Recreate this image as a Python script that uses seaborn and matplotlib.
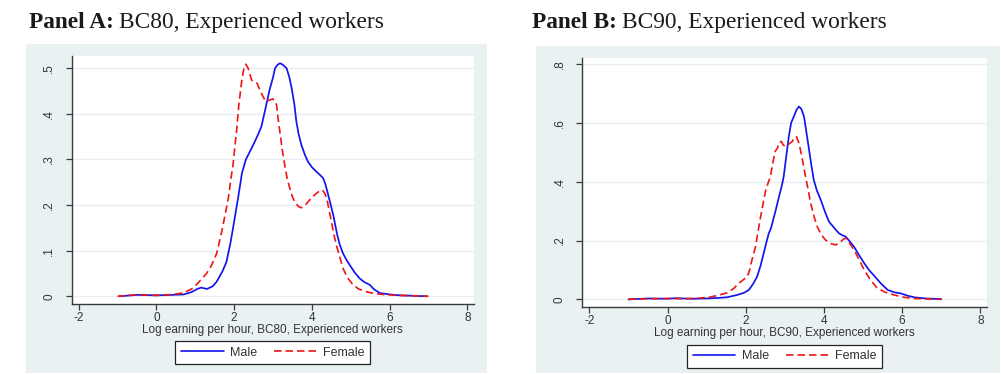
import numpy as np
import pandas as pd
import matplotlib
matplotlib.use("Agg")
import matplotlib.pyplot as plt
from matplotlib.patches import Rectangle
from matplotlib.ticker import FuncFormatter
import seaborn as sns

# ---- Kernel density estimates of log hourly earnings (read at irregular x) ----
# Panel A: BC80
a_male_x = [-0.95, -0.5, 0.0, 0.4, 0.7, 0.9, 1.05, 1.15, 1.3, 1.45, 1.55, 1.7, 1.8, 1.9,
            1.97, 2.05, 2.10, 2.2, 2.3, 2.36, 2.45, 2.53, 2.6, 2.7, 2.8, 2.92, 3.0, 3.05,
            3.12, 3.18, 3.25, 3.35, 3.42, 3.48, 3.55, 3.60, 3.66, 3.73, 3.82, 3.90, 4.0,
            4.12, 4.22, 4.29, 4.35, 4.42, 4.50, 4.55, 4.65, 4.72, 4.80, 4.9, 4.97, 5.1,
            5.23, 5.35, 5.49, 5.6, 5.75, 6.0, 6.26, 6.6, 6.95]
a_male_y = [0.000, 0.003, 0.002, 0.003, 0.004, 0.009, 0.016, 0.019, 0.016, 0.022, 0.032,
            0.055, 0.075, 0.115, 0.149, 0.190, 0.215, 0.270, 0.300, 0.310, 0.325, 0.339,
            0.352, 0.372, 0.410, 0.456, 0.480, 0.500, 0.508, 0.511, 0.508, 0.500, 0.480,
            0.456, 0.420, 0.383, 0.355, 0.332, 0.310, 0.295, 0.283, 0.273, 0.265, 0.259,
            0.245, 0.222, 0.195, 0.178, 0.135, 0.112, 0.094, 0.078, 0.069, 0.052, 0.039,
            0.031, 0.025, 0.015, 0.007, 0.004, 0.002, 0.001, 0.000]

a_female_x = [-1.0, -0.7, -0.45, -0.2, 0.1, 0.4, 0.69, 0.95, 1.12, 1.29, 1.40, 1.46, 1.55,
              1.68, 1.77, 1.85, 1.92, 1.97, 2.02, 2.06, 2.12, 2.19, 2.25, 2.30, 2.36, 2.45,
              2.52, 2.59, 2.7, 2.81, 2.9, 2.99, 3.05, 3.09, 3.13, 3.175, 3.24, 3.30, 3.36,
              3.43, 3.5, 3.56, 3.65, 3.73, 3.82, 3.90, 4.0, 4.12, 4.2, 4.27, 4.33, 4.38,
              4.44, 4.50, 4.56, 4.63, 4.72, 4.80, 4.92, 5.06, 5.2, 5.4, 5.6, 5.83, 6.2,
              6.6, 7.0]
a_female_y = [0.000, 0.002, 0.004, 0.002, 0.002, 0.004, 0.007, 0.018, 0.034, 0.050, 0.065,
              0.076, 0.094, 0.142, 0.180, 0.215, 0.260, 0.288, 0.330, 0.361, 0.420, 0.470,
              0.500, 0.509, 0.500, 0.474, 0.470, 0.467, 0.445, 0.427, 0.430, 0.433, 0.428,
              0.420, 0.390, 0.361, 0.320, 0.288, 0.260, 0.237, 0.218, 0.207, 0.197, 0.194,
              0.199, 0.207, 0.217, 0.226, 0.231, 0.233, 0.226, 0.215, 0.190, 0.164, 0.138,
              0.112, 0.085, 0.061, 0.040, 0.025, 0.016, 0.010, 0.006, 0.004, 0.002, 0.001,
              0.000]

# Panel B: BC90
b_male_x = [-1.0, -0.5, 0.0, 0.2, 0.6, 1.0, 1.3, 1.52, 1.78, 1.95, 2.08, 2.2, 2.29, 2.38,
            2.46, 2.53, 2.59, 2.64, 2.68, 2.76, 2.85, 2.92, 2.97, 3.03, 3.10, 3.16, 3.23,
            3.30, 3.36, 3.42, 3.49, 3.55, 3.62, 3.68, 3.74, 3.82, 3.92, 4.02, 4.13, 4.25,
            4.38, 4.47, 4.56, 4.66, 4.77, 4.90, 5.03, 5.15, 5.30, 5.45, 5.63, 5.8, 5.97,
            6.15, 6.31, 6.6, 7.0]
b_male_y = [0.000, 0.003, 0.002, 0.004, 0.002, 0.003, 0.005, 0.007, 0.015, 0.022, 0.032,
            0.055, 0.077, 0.115, 0.157, 0.195, 0.225, 0.240, 0.259, 0.300, 0.349, 0.385,
            0.417, 0.480, 0.553, 0.600, 0.622, 0.645, 0.656, 0.648, 0.622, 0.570, 0.508,
            0.455, 0.406, 0.370, 0.338, 0.300, 0.264, 0.245, 0.225, 0.218, 0.213, 0.197,
            0.179, 0.150, 0.123, 0.100, 0.078, 0.055, 0.032, 0.024, 0.020, 0.012, 0.007,
            0.003, 0.001]

b_female_x = [-1.0, -0.5, 0.0, 0.4, 0.8, 1.1, 1.3, 1.52, 1.7, 1.82, 1.95, 2.04, 2.10, 2.17,
              2.25, 2.32, 2.38, 2.45, 2.51, 2.57, 2.63, 2.70, 2.76, 2.81, 2.86, 2.91, 2.96,
              3.02, 3.10, 3.19, 3.25, 3.30, 3.35, 3.40, 3.47, 3.53, 3.60, 3.66, 3.75, 3.83,
              3.93, 4.04, 4.17, 4.30, 4.42, 4.50, 4.56, 4.66, 4.77, 4.90, 5.03, 5.18, 5.35,
              5.55, 5.79, 6.05, 6.31, 6.7, 7.0]
b_female_y = [0.000, 0.002, 0.003, 0.002, 0.004, 0.008, 0.014, 0.022, 0.038, 0.054, 0.068,
              0.077, 0.100, 0.140, 0.179, 0.235, 0.281, 0.330, 0.372, 0.395, 0.417, 0.470,
              0.505, 0.514, 0.535, 0.537, 0.525, 0.520, 0.528, 0.537, 0.552, 0.553, 0.535,
              0.508, 0.460, 0.417, 0.370, 0.327, 0.280, 0.247, 0.220, 0.202, 0.190, 0.185,
              0.195, 0.205, 0.208, 0.190, 0.168, 0.135, 0.100, 0.068, 0.040, 0.025, 0.015,
              0.007, 0.003, 0.001, 0.000]

series_labels = ["Male", "Female"]
panel_heads = ["Panel A:", "Panel B:"]
panel_names = ["BC80, Experienced workers", "BC90, Experienced workers"]
x_labels = ["Log earning per hour, BC80, Experienced workers",
            "Log earning per hour, BC90, Experienced workers"]
x_ticks = [-2, 0, 2, 4, 6, 8]
y_ticks = [[0, 0.1, 0.2, 0.3, 0.4, 0.5], [0, 0.2, 0.4, 0.6, 0.8]]

# ---- styling ----
sns.set_style("white")
plt.rcParams["font.family"] = ["Liberation Sans", "DejaVu Sans"]
plt.rcParams["axes.unicode_minus"] = False

BG = "#EAF1F3"
GRID = "#E6EEF0"
AXC = "#3A3A3A"
TXT = "#333333"

fig = plt.figure(figsize=(10.01, 3.74), dpi=100)
fig.patch.set_facecolor("white")

W, H = 1001.0, 374.0
boxes = [(25.7, 44, 487, 373), (536, 46, 1000, 373)]
axes_px = [(71.7, 56, 474, 304), (582.3, 57.7, 987, 306.7)]
ylims = [(-0.017, 0.527), (-0.025, 0.822)]
xlim = (-2.18, 8.17)
title_pos = [(29, 28), (532, 28)]
legend_y = [-0.149, -0.153]

panels = [
    (a_male_x, a_male_y, a_female_x, a_female_y),
    (b_male_x, b_male_y, b_female_x, b_female_y),
]


def stata_fmt(v, _pos):
    if abs(v) < 1e-9:
        return "0"
    return ("%.1f" % v).replace("0.", ".")


renderer = fig.canvas.get_renderer()

for i, (mx, my, fx, fy) in enumerate(panels):
    l, t, r, b = boxes[i]
    fig.patches.append(Rectangle((l / W, 1 - b / H), (r - l) / W, (b - t) / H,
                                 transform=fig.transFigure, facecolor=BG,
                                 edgecolor="none", zorder=-10))
    al, at, ar, ab = axes_px[i]
    ax = fig.add_axes([al / W, 1 - ab / H, (ar - al) / W, (ab - at) / H])
    ax.set_zorder(1)
    ax.set_facecolor("white")

    df = pd.concat([
        pd.DataFrame({"x": mx, "y": my, "sex": series_labels[0]}),
        pd.DataFrame({"x": fx, "y": fy, "sex": series_labels[1]}),
    ])
    sns.lineplot(data=df[df.sex == "Male"], x="x", y="y", ax=ax, color="#1414F0",
                 linewidth=1.25, label=series_labels[0], sort=False, estimator=None)
    sns.lineplot(data=df[df.sex == "Female"], x="x", y="y", ax=ax, color="#F01414",
                 linewidth=1.2, linestyle="--", label=series_labels[1], sort=False,
                 estimator=None)
    ax.lines[1].set_dashes((4.5, 2.4))

    ax.set_xlim(*xlim)
    ax.set_ylim(*ylims[i])
    ax.set_xticks(x_ticks)
    ax.set_yticks(y_ticks[i])
    ax.yaxis.set_major_formatter(FuncFormatter(stata_fmt))
    ax.grid(axis="y", color=GRID, linewidth=1.0)
    ax.grid(axis="x", visible=False)
    ax.set_axisbelow(True)

    for s in ["top", "right"]:
        ax.spines[s].set_visible(False)
    for s in ["left", "bottom"]:
        ax.spines[s].set_color(AXC)
        ax.spines[s].set_linewidth(1.0)

    ax.tick_params(axis="both", direction="out", length=4, width=0.9, color=AXC,
                   labelsize=8.5, labelcolor=TXT, left=True, bottom=True)
    ax.tick_params(axis="y", labelrotation=90, pad=8)
    ax.tick_params(axis="x", pad=2)
    for lab in ax.get_yticklabels():
        lab.set_verticalalignment("center")

    ax.set_xlabel(x_labels[i], fontsize=8.5, color=TXT, labelpad=0)
    ax.set_ylabel("")

    leg = ax.legend(loc="upper center", bbox_to_anchor=(0.5, legend_y[i]), ncol=2,
                    frameon=True, fancybox=False, fontsize=9, handlelength=3.4,
                    columnspacing=1.3, handletextpad=0.55, borderpad=0.45,
                    borderaxespad=0, edgecolor="#222222", framealpha=1)
    leg.get_frame().set_linewidth(0.9)
    for txt in leg.get_texts():
        txt.set_color(TXT)
    for h in leg.get_lines():
        h.set_linewidth(1.2)

    # bold panel tag followed by regular description
    tx, ty = title_pos[i]
    head = fig.text(tx / W, 1 - ty / H, panel_heads[i], fontsize=16.8,
                    family="Liberation Serif", fontweight="bold", color="#1a1a1a",
                    va="baseline", ha="left")
    bb = head.get_window_extent(renderer=renderer)
    fig.text((bb.x1 + 5) / W, 1 - ty / H, panel_names[i], fontsize=16.8,
             family="Liberation Serif", color="#1a1a1a", va="baseline", ha="left")

fig.savefig("out.png", dpi=100, facecolor="white")
